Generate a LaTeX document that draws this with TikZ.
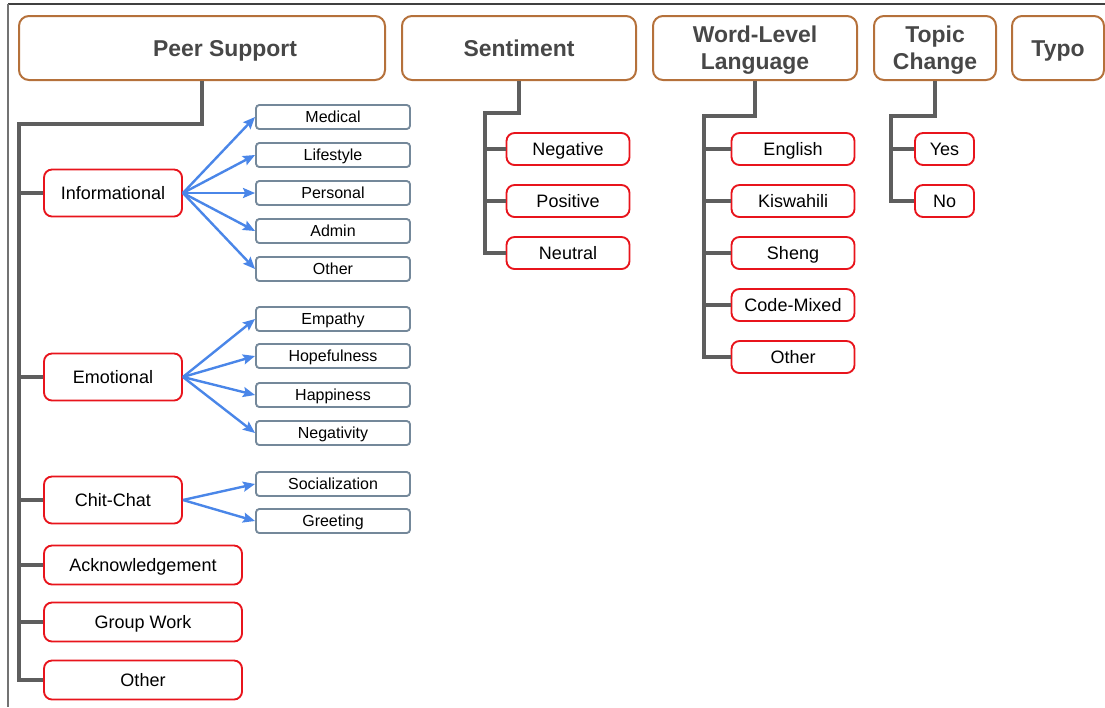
\documentclass[tikz,border=0pt]{standalone}
\usepackage{fontspec}
\setmainfont{Liberation Sans}
\usetikzlibrary{arrows.meta}
\definecolor{hdrbrown}{HTML}{B5713B}
\definecolor{boxred}{HTML}{E8141C}
\definecolor{slate}{HTML}{74889A}
\definecolor{arrblue}{HTML}{4A86E8}
\definecolor{treegray}{HTML}{5E5E5E}
\definecolor{hdrtext}{HTML}{474747}
\tikzset{
  hdrfont/.style={font=\fontsize{17.2}{20.5}\selectfont\bfseries,text=hdrtext,
    text height=12.3pt,text depth=0pt,align=center,inner sep=0pt},
  hdr/.style={draw=hdrbrown,line width=1.5pt,rounded corners=7.5pt,
    minimum height=48pt,hdrfont},
  hdrtwo/.style={hdr,text height=32.8pt},
  redbox/.style={draw=boxred,line width=1.4pt,rounded corners=6pt,inner sep=0pt,
    font=\fontsize{13.5}{15}\selectfont,fill=white,text height=9.7pt,text depth=0pt},
  bigred/.style={redbox,minimum width=103.5pt,minimum height=35.25pt},
  widered/.style={redbox,minimum width=148.5pt,minimum height=29.25pt},
  midred/.style={redbox,minimum width=92.25pt,minimum height=24pt},
  tinyred/.style={redbox,minimum width=44.25pt,minimum height=24pt},
  leaf/.style={draw=slate,line width=1.4pt,rounded corners=2.5pt,inner sep=0pt,
    minimum width=115.5pt,minimum height=18pt,font=\fontsize{12}{14}\selectfont,
    text height=8.6pt,text depth=0pt},
  tree/.style={draw=treegray,line width=3pt},
  arr/.style={draw=arrblue,line width=1.8pt,-{Stealth[length=9pt,width=7.5pt,inset=1.5pt]}},
  frame/.style={draw=black!75,line width=1pt}
}
\begin{document}
\begin{tikzpicture}[x=0.75pt,y=-0.75pt]
\useasboundingbox (0,0) rectangle (1105,707);
% frame
\coordinate (fTL) at (8,4);
\coordinate (fTR) at (1105,4);
\coordinate (fBL) at (8,707);
\draw[frame] (fTR) -- (fTL);
\draw[draw=black!55,line width=1.2pt] (fTL) -- (fBL);

% headers
\node[hdr,minimum width=274.5pt] (ps) at (202,48) {};
\node[hdrfont] (pstext) at (225,48) {Peer Support};
\node[hdr,minimum width=175.5pt] (se) at (519,48) {Sentiment};
\node[hdrtwo,minimum width=153pt] (wl) at (755,48) {Word-Level\\Language};
\node[hdrtwo,minimum width=91.5pt] (tc) at (935,48) {Topic\\Change};
\node[hdr,minimum width=69pt] (ty) at (1058,48) {Typo};

% peer support categories
\node[bigred] (inf) at (113,193) {Informational};
\node[bigred] (emo) at (113,377) {Emotional};
\node[bigred] (chi) at (113,500) {Chit-Chat};
\node[widered] (ack) at (143,565) {Acknowledgement};
\node[widered] (grp) at (143,622) {Group Work};
\node[widered] (pso) at (143,680) {Other};

% leaves
\node[leaf] (med) at (333,117) {Medical};
\node[leaf] (lif) at (333,155) {Lifestyle};
\node[leaf] (per) at (333,193) {Personal};
\node[leaf] (adm) at (333,231) {Admin};
\node[leaf] (ioth) at (333,269) {Other};
\node[leaf] (emp) at (333,319) {Empathy};
\node[leaf] (hop) at (333,356) {Hopefulness};
\node[leaf] (hap) at (333,395) {Happiness};
\node[leaf] (neg) at (333,433) {Negativity};
\node[leaf] (soc) at (333,484) {Socialization};
\node[leaf] (gre) at (333,521) {Greeting};

% sentiment
\node[midred] (sneg) at (568,149) {Negative};
\node[midred] (spos) at (568,201) {Positive};
\node[midred] (sneu) at (568,253) {Neutral};

% word level
\node[midred] (weng) at (793,149) {English};
\node[midred] (wkis) at (793,201) {Kiswahili};
\node[midred] (wshe) at (793,253) {Sheng};
\node[midred] (wcod) at (793,305) {Code-Mixed};
\node[midred] (woth) at (793,357) {Other};

% topic change
\node[tinyred] (tyes) at (944.5,149) {Yes};
\node[tinyred] (tno) at (944.5,201) {No};

% tree: peer support
\coordinate (psT) at (19,124);
\draw[tree] (ps.south) |- (psT) -- (psT |- pso.west) -- (pso.west);
\foreach \n in {inf,emo,chi,ack,grp} \draw[tree] (psT |- \n.west) -- (\n.west);

% tree: sentiment
\coordinate (seT) at (485,113);
\draw[tree] (se.south) |- (seT) -- (seT |- sneu.west) -- (sneu.west);
\foreach \n in {sneg,spos} \draw[tree] (seT |- \n.west) -- (\n.west);

% tree: word level
\coordinate (wlT) at (704,116);
\draw[tree] (wl.south) |- (wlT) -- (wlT |- woth.west) -- (woth.west);
\foreach \n in {weng,wkis,wshe,wcod} \draw[tree] (wlT |- \n.west) -- (\n.west);

% tree: topic change
\coordinate (tcT) at (891,116);
\draw[tree] (tc.south) |- (tcT) -- (tcT |- tno.west) -- (tno.west);
\draw[tree] (tcT |- tyes.west) -- (tyes.west);

% arrows
\foreach \n in {med,lif,per,adm,ioth} \draw[arr] (inf.east) -- (\n.west);
\foreach \n in {emp,hop,hap,neg} \draw[arr] (emo.east) -- (\n.west);
\foreach \n in {soc,gre} \draw[arr] (chi.east) -- (\n.west);
\end{tikzpicture}
\end{document}
